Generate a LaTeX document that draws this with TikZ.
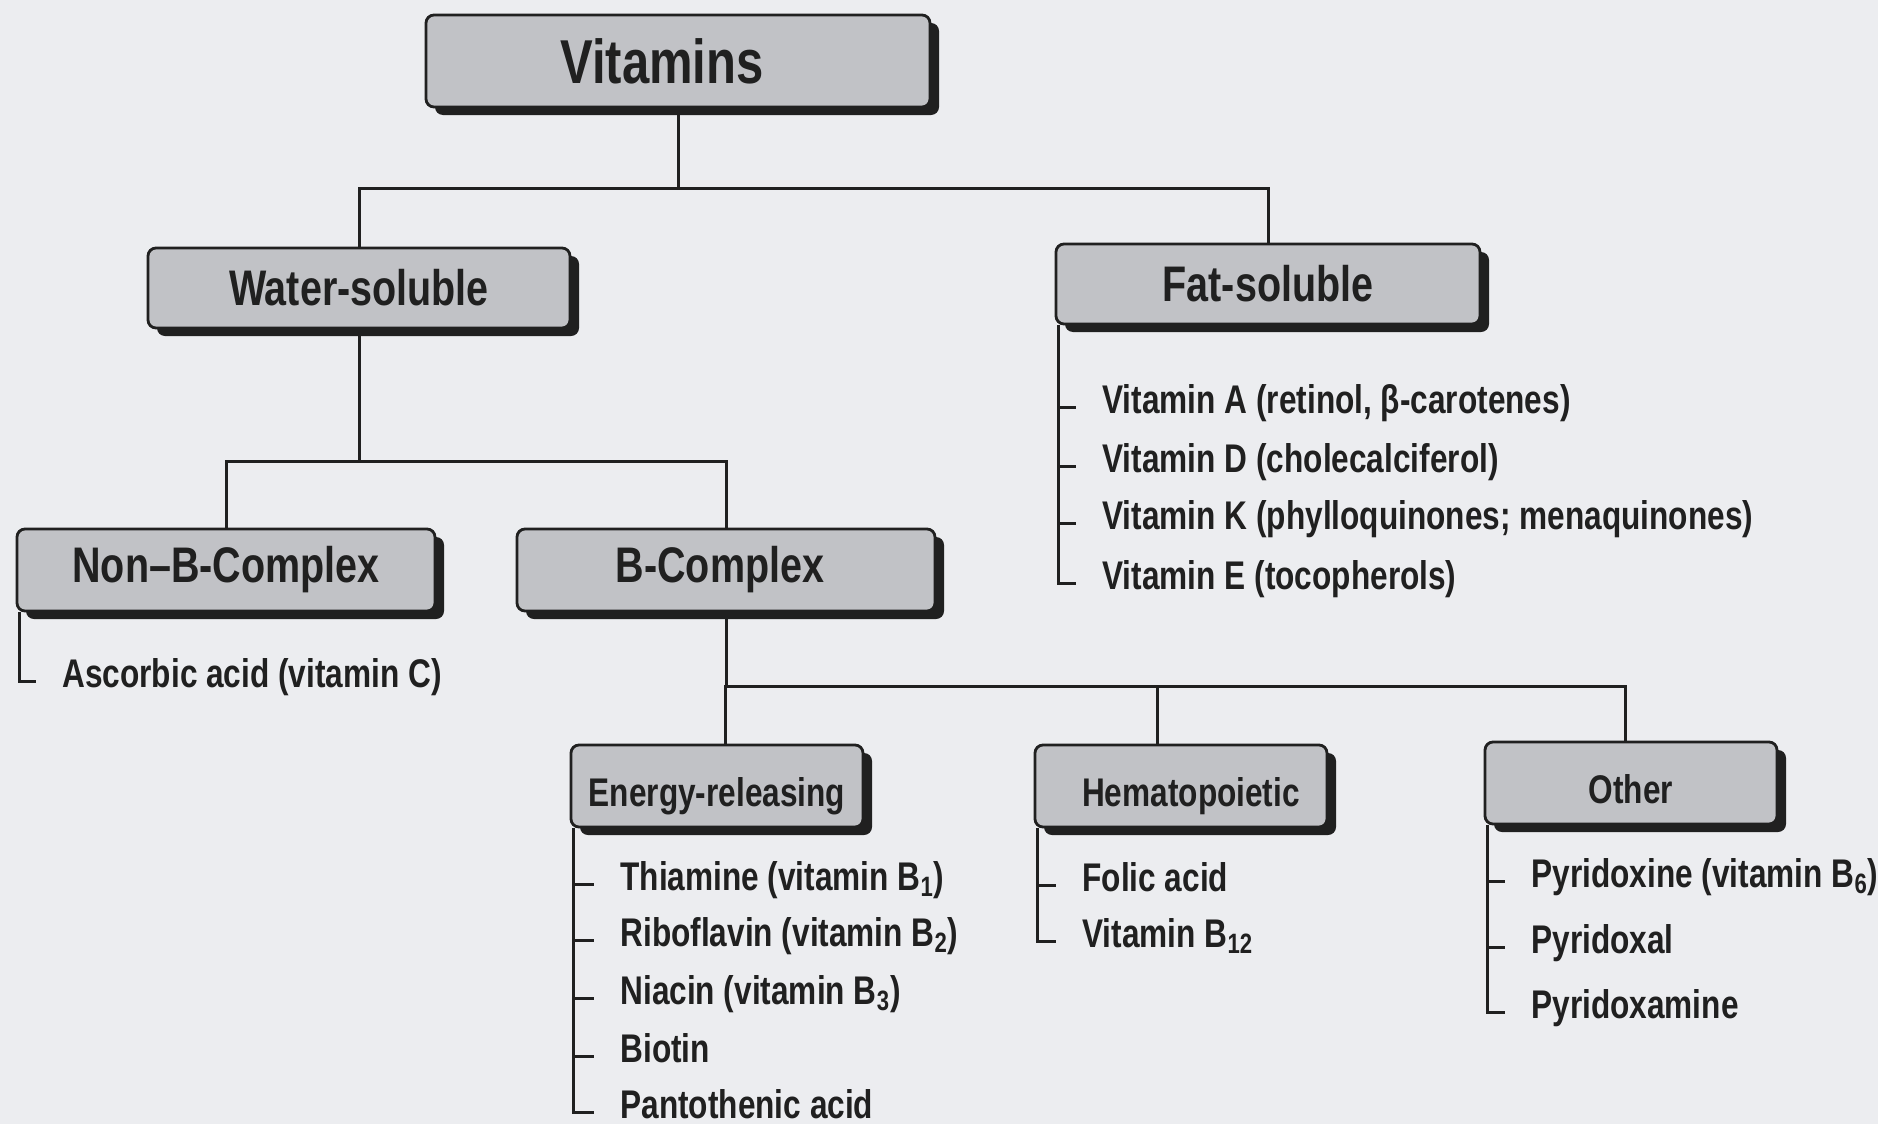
\documentclass[tikz,border=0pt]{standalone}
\usepackage{fontspec}
\setmainfont{Liberation Sans}[FakeStretch=0.79]
\usetikzlibrary{shadows}
\definecolor{bgpaper}{RGB}{236,237,240}
\definecolor{boxgray}{RGB}{193,194,198}
\definecolor{inkdark}{RGB}{32,32,32}

\tikzset{
  catbox/.style={draw=inkdark, line width=1.4pt, fill=boxgray, rounded corners=4pt,
    text=inkdark, inner sep=0pt, font=\bfseries\fontsize{25}{30}\selectfont,
    drop shadow={shadow xshift=4.5pt, shadow yshift=-4pt, fill=inkdark, opacity=1}},
  subbox/.style={catbox, minimum width=146pt, minimum height=41pt, text height=25pt, text depth=4.5pt,
    font=\bfseries\fontsize{20}{24}\selectfont},
  listitem/.style={anchor=base west, text=inkdark, inner sep=0pt, font=\bfseries\fontsize{20}{24}\selectfont},
  link/.style={draw=inkdark, line width=1.5pt},
}

\begin{document}
\begin{tikzpicture}[x=0.5pt, y=-0.5pt]
			\fill[bgpaper] (0,0) rectangle (1878,1124);
			\useasboundingbox (0,0) rectangle (1878,1124);
			% category boxes
			\node[catbox, minimum width=252pt, minimum height=46pt, font=\bfseries\fontsize{31}{36}\selectfont] (vit) at (678,61) {Vitamins\kern16pt};
			\node[catbox, minimum width=211pt, minimum height=40pt] (water) at (359,288) {Water-soluble};
			\node[catbox, minimum width=212pt, minimum height=40pt] (fat) at (1268,284) {Fat-soluble};
			\node[catbox, minimum width=209pt, minimum height=41pt] (nonb) at (226,570) {Non–B-Complex};
			\node[catbox, minimum width=209pt, minimum height=41pt] (bcx) at (726,570) {B-Complex\kern6pt};
			\node[subbox] (energy) at (717,786) {Energy-releasing};
			\node[subbox] (hema) at (1181,786) {\kern10pt Hematopoietic};
			\node[subbox] (other) at (1631,783) {Other};
			% tree connectors
			\coordinate (bus1) at (679,188);
			\coordinate (bus2) at (362,461);
			\coordinate (bus3) at (725,686);
			\coordinate (hemtop) at ([xshift=-12pt]hema.north);
			\draw[link] (vit.south) -- (vit.south |- bus1);
			\draw[link] (water.north) |- (bus1) -| (fat.north);
			\draw[link] (water.south) -- (water.south |- bus2);
			\draw[link] (nonb.north) |- (bus2) -| (bcx.north);
			\draw[link] (bcx.south) -- (bcx.south |- bus3);
			\draw[link] ([xshift=4pt]energy.north) |- (bus3) -| ([xshift=-3pt]other.north);
			\draw[link] (hemtop) -- (hemtop |- bus3);
			% non-B list
			\node[listitem] (ascorbic) at (62,687) {Ascorbic acid (vitamin C)};
			\coordinate (nonbspine) at ([xshift=2pt]nonb.south west);
			\draw[link] (nonbspine) |- ([xshift=-13pt, yshift=3pt]ascorbic.base west);
			% fat-soluble list
			\node[listitem] (fatA) at (1102,413) {Vitamin A (retinol, β-carotenes)};
			\node[listitem] (fatD) at (1102,472) {Vitamin D (cholecalciferol)};
			\node[listitem] (fatK) at (1102,529) {Vitamin K (phylloquinones; menaquinones)};
			\node[listitem] (fatE) at (1102,589) {Vitamin E (tocopherols)};
			\coordinate (fatspine) at ([xshift=2pt]fat.south west);
			\draw[link] (fatspine) |- ([xshift=-13pt, yshift=3pt]fatE.base west);
			\draw[link] (fatspine |- fatA.base west) ++(0,-6) -- ([xshift=-13pt, yshift=3pt]fatA.base west);
			\draw[link] (fatspine |- fatD.base west) ++(0,-6) -- ([xshift=-13pt, yshift=3pt]fatD.base west);
			\draw[link] (fatspine |- fatK.base west) ++(0,-6) -- ([xshift=-13pt, yshift=3pt]fatK.base west);
			% energy-releasing list
			\node[listitem] (thia) at (620,890) {Thiamine (vitamin B\textsubscript{1})};
			\node[listitem] (ribo) at (620,946) {Riboflavin (vitamin B\textsubscript{2})};
			\node[listitem] (niac) at (620,1004) {Niacin (vitamin B\textsubscript{3})};
			\node[listitem] (biot) at (620,1062) {Biotin};
			\node[listitem] (pant) at (620,1118) {Pantothenic acid};
			\coordinate (enspine) at ([xshift=2pt]energy.south west);
			\draw[link] (enspine) |- ([xshift=-13pt, yshift=3pt]pant.base west);
			\draw[link] (enspine |- thia.base west) ++(0,-6) -- ([xshift=-13pt, yshift=3pt]thia.base west);
			\draw[link] (enspine |- ribo.base west) ++(0,-6) -- ([xshift=-13pt, yshift=3pt]ribo.base west);
			\draw[link] (enspine |- niac.base west) ++(0,-6) -- ([xshift=-13pt, yshift=3pt]niac.base west);
			\draw[link] (enspine |- biot.base west) ++(0,-6) -- ([xshift=-13pt, yshift=3pt]biot.base west);
			% hematopoietic list
			\node[listitem] (folic) at (1082,891) {Folic acid};
			\node[listitem] (btwelve) at (1082,947) {Vitamin B\textsubscript{12}};
			\coordinate (hemspine) at ([xshift=2pt]hema.south west);
			\draw[link] (hemspine) |- ([xshift=-13pt, yshift=3pt]btwelve.base west);
			\draw[link] (hemspine |- folic.base west) ++(0,-6) -- ([xshift=-13pt, yshift=3pt]folic.base west);
			% other list
			\node[listitem] (pyrine) at (1531,887) {Pyridoxine (vitamin B\textsubscript{6})};
			\node[listitem] (pyral) at (1531,953) {Pyridoxal};
			\node[listitem] (pyramine) at (1531,1018) {Pyridoxamine};
			\coordinate (othspine) at ([xshift=2pt]other.south west);
			\draw[link] (othspine) |- ([xshift=-13pt, yshift=3pt]pyramine.base west);
			\draw[link] (othspine |- pyrine.base west) ++(0,-6) -- ([xshift=-13pt, yshift=3pt]pyrine.base west);
			\draw[link] (othspine |- pyral.base west) ++(0,-6) -- ([xshift=-13pt, yshift=3pt]pyral.base west);
			\end{tikzpicture}
\end{document}
